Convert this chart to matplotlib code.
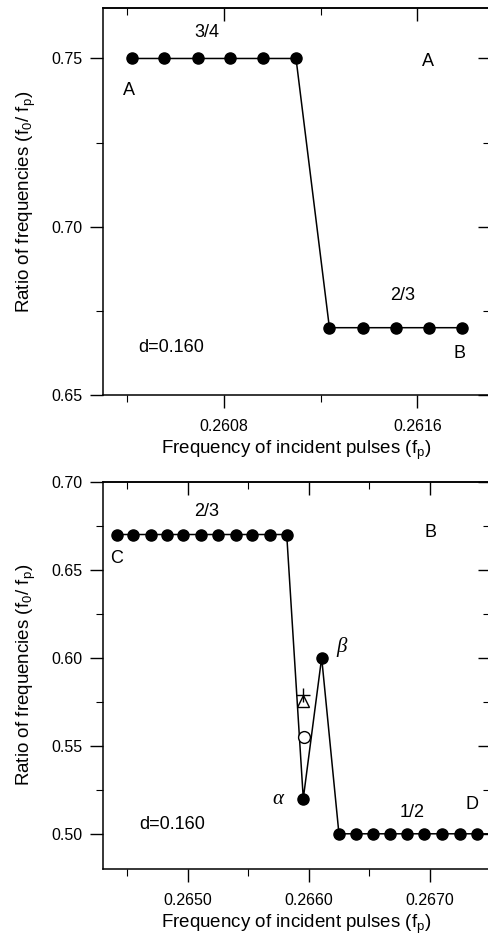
import matplotlib
matplotlib.use('Agg')
import matplotlib.pyplot as plt
from matplotlib.ticker import MultipleLocator, FormatStrFormatter

# panel A: step from 3/4 to 2/3
fp_a = [0.260419, 0.260552, 0.260691, 0.260825, 0.260963, 0.261098,
        0.261236, 0.261374, 0.261511, 0.261649, 0.261783]
ratio_a = [0.75, 0.75, 0.75, 0.75, 0.75, 0.75,
           0.67, 0.67, 0.67, 0.67, 0.67]

# panel B: 2/3 -> alpha/beta -> 1/2
fp_b = [0.264413, 0.264551, 0.264694, 0.264832, 0.264964, 0.265110,
        0.265253, 0.265397, 0.265535, 0.265681, 0.265819,
        0.265956, 0.266108,
        0.266251, 0.266392, 0.266535, 0.266673, 0.266811, 0.266954,
        0.267101, 0.267252, 0.267390, 0.267560]
ratio_b = [0.67] * 11 + [0.52, 0.60] + [0.50] * 10

# extra symbols between alpha and beta
fp_circle, ratio_circle = [0.26596], [0.555]
fp_tri, ratio_tri = [0.265955], [0.5755]
fp_plus, ratio_plus = [0.265955], [0.5789]

plt.rcParams['font.family'] = ['Liberation Sans', 'DejaVu Sans']
plt.rcParams['mathtext.fontset'] = 'custom'
plt.rcParams['mathtext.rm'] = 'Liberation Sans'
plt.rcParams['mathtext.it'] = 'Liberation Sans:italic'

W, H = 489, 935
fig = plt.figure(figsize=(W / 100, H / 100), dpi=100)
ax1 = fig.add_axes([103 / W, 1 - 395 / H, 387 / W, 387 / H])
ax2 = fig.add_axes([103 / W, 1 - 869 / H, 387 / W, 387.3 / H])

xlabel = 'Frequency of incident pulses (f$_\\mathrm{p}$)'
ylabel = 'Ratio of frequencies (f$_\\mathrm{0}$/ f$_\\mathrm{p}$)'


def style(ax, xmaj, xmin):
    ax.xaxis.set_major_locator(MultipleLocator(xmaj))
    ax.xaxis.set_minor_locator(MultipleLocator(xmin))
    ax.yaxis.set_major_locator(MultipleLocator(0.05))
    ax.yaxis.set_minor_locator(MultipleLocator(0.025))
    ax.xaxis.set_major_formatter(FormatStrFormatter('%.4f'))
    ax.yaxis.set_major_formatter(FormatStrFormatter('%.2f'))
    ax.tick_params(which='both', direction='out', labelsize=11.5, width=1.0)
    ax.tick_params(which='major', length=9.5)
    ax.tick_params(which='minor', length=5, width=0.8)
    ax.tick_params(axis='x', pad=8)
    ax.tick_params(axis='y', pad=5)
    for s in ax.spines.values():
        s.set_linewidth(1.1)
    # inward ticks on top and right
    top = ax.secondary_xaxis('top')
    top.xaxis.set_major_locator(MultipleLocator(xmaj))
    top.xaxis.set_minor_locator(MultipleLocator(xmin))
    top.tick_params(which='both', direction='in', labeltop=False, width=1.0)
    top.tick_params(which='major', length=9)
    top.tick_params(which='minor', length=5, width=0.8)
    top.spines['top'].set_linewidth(1.1)
    right = ax.secondary_yaxis('right')
    right.yaxis.set_major_locator(MultipleLocator(0.05))
    right.yaxis.set_minor_locator(MultipleLocator(0.025))
    right.tick_params(which='both', direction='in', labelright=False, width=1.0)
    right.tick_params(which='major', length=9)
    right.tick_params(which='minor', length=5, width=0.8)
    ax.set_xlabel(xlabel, fontsize=13.5, labelpad=3)
    ax.set_ylabel(ylabel, fontsize=13.5, labelpad=10)


# top panel
ax1.plot(fp_a, ratio_a, '-o', color='black', lw=1.1, ms=8)
ax1.set_xlim(0.2603, 0.2619)
ax1.set_ylim(0.65, 0.765)
style(ax1, 0.0008, 0.0004)
tk = dict(fontsize=13, ha='center', va='center')
ax1.text(0.26073, 0.7576, '3/4', **tk)
ax1.text(0.260407, 0.7405, 'A', **tk)
ax1.text(0.261644, 0.7490, 'A', **tk)
ax1.text(0.261538, 0.6795, '2/3', **tk)
ax1.text(0.261772, 0.6622, 'B', **tk)
ax1.text(0.260581, 0.6642, 'd=0.160', **tk)

# bottom panel
ax2.plot(fp_b, ratio_b, '-o', color='black', lw=1.1, ms=8)
ax2.plot(fp_circle, ratio_circle, 'o', ms=8.5, mfc='white', mec='black', mew=1.0)
ax2.plot(fp_tri, ratio_tri, '^', ms=8, mfc='none', mec='black', mew=1.0)
ax2.plot(fp_plus, ratio_plus, '+', ms=10, color='black', mew=1.0)
ax2.set_xlim(0.2643, 0.2675)
ax2.set_ylim(0.48, 0.70)
style(ax2, 0.001, 0.0005)
ax2.text(0.26516, 0.6828, '2/3', **tk)
ax2.text(0.264412, 0.6566, 'C', **tk)
ax2.text(0.267012, 0.6714, 'B', **tk)
ax2.text(0.266859, 0.5119, '1/2', **tk)
ax2.text(0.267355, 0.5169, 'D', **tk)
ax2.text(0.264875, 0.5055, 'd=0.160', **tk)
greek = dict(fontsize=15, ha='center', va='center', family='Liberation Serif', style='italic')
ax2.text(0.266276, 0.6061, 'β', **greek)
ax2.text(0.265747, 0.5192, 'α', **greek)

fig.savefig('out.png', dpi=100)
